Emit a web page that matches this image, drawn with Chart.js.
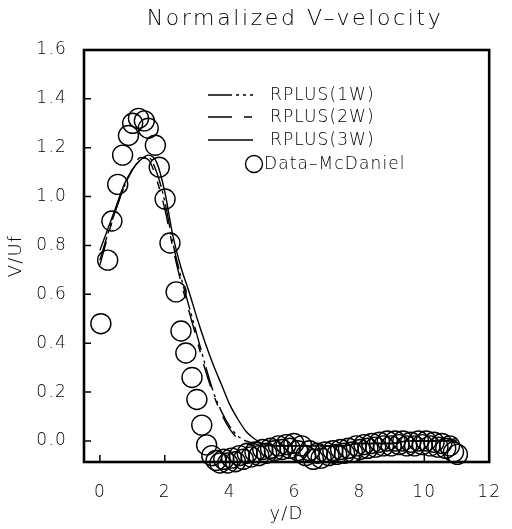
<!DOCTYPE html>
<html>
<head>
<meta charset="utf-8">
<script src="https://cdn.jsdelivr.net/npm/chart.js@4"></script>
<style>
  html, body { margin: 0; padding: 0; background: #fff; }
  #wrap { width: 512px; height: 529px; }
</style>
</head>
<body>
<div id="wrap"><canvas id="c" width="512" height="529"></canvas></div>
<script>
// RPLUS computed profiles, sampled along y/D
const curveX = [0, 0.25, 0.5, 0.75, 1.0, 1.25, 1.5, 1.75, 2.0, 2.25, 2.5, 2.75, 3.0, 3.25, 3.5, 3.75, 4.0, 4.25, 4.5, 4.75, 5.0, 5.5, 6.0, 6.5, 7.0, 7.5, 8.0, 8.5, 9.0, 9.5, 10.0, 10.5, 11.0];
const rplus1W = [0.74, 0.85, 0.95, 1.04, 1.11, 1.15, 1.16, 1.10, 0.98, 0.81, 0.67, 0.55, 0.43, 0.31, 0.20, 0.12, 0.06, 0.02, 0.00, -0.01, -0.02, -0.02, -0.02, -0.02, -0.02, -0.02, -0.01, -0.01, -0.01, 0.00, 0.00, 0.00, 0.00];
const rplus2W = [0.72, 0.84, 0.95, 1.04, 1.11, 1.16, 1.15, 1.07, 0.95, 0.79, 0.65, 0.53, 0.41, 0.29, 0.19, 0.11, 0.05, 0.01, -0.01, -0.02, -0.02, -0.02, -0.02, -0.02, -0.02, -0.02, -0.01, -0.01, -0.01, 0.00, 0.00, 0.00, 0.00];
const rplus3W = [0.78, 0.87, 0.96, 1.05, 1.11, 1.15, 1.17, 1.14, 1.02, 0.84, 0.71, 0.61, 0.50, 0.40, 0.31, 0.23, 0.15, 0.09, 0.04, 0.01, -0.01, -0.02, -0.02, -0.02, -0.02, -0.02, -0.01, -0.01, -0.01, 0.00, 0.00, 0.00, 0.01];

// McDaniel measurements
const dataX = [0.03, 0.24, 0.37, 0.55, 0.70, 0.88, 1.01, 1.19, 1.37, 1.49, 1.71, 1.83, 2.01, 2.16, 2.35, 2.50, 2.65, 2.84, 2.99, 3.14, 3.29, 3.45,
  3.58, 3.70, 3.82, 3.94, 4.06, 4.18, 4.30, 4.42, 4.54, 4.66, 4.78, 4.90, 5.02, 5.14, 5.26, 5.38, 5.50, 5.62, 5.74, 5.86, 5.98,
  6.10, 6.22, 6.34, 6.46, 6.58, 6.70, 6.82, 6.94, 7.06, 7.18, 7.30, 7.42, 7.54, 7.66, 7.78, 7.90, 8.02, 8.14, 8.26, 8.38, 8.50,
  8.62, 8.74, 8.86, 8.98, 9.10, 9.22, 9.34, 9.46, 9.58, 9.70, 9.82, 9.94, 10.06, 10.18, 10.30, 10.42, 10.54, 10.66, 10.78, 10.90, 11.02];
const dataY = [0.48, 0.74, 0.90, 1.05, 1.17, 1.25, 1.30, 1.32, 1.31, 1.28, 1.21, 1.12, 0.99, 0.81, 0.61, 0.45, 0.36, 0.26, 0.17, 0.065, -0.016, -0.06,
  -0.08, -0.09, -0.075, -0.09, -0.07, -0.085, -0.06, -0.075, -0.05, -0.065, -0.045, -0.06, -0.035, -0.05, -0.03, -0.04, -0.02, -0.035, -0.015, -0.03, -0.01,
  -0.04, -0.02, -0.06, -0.04, -0.075, -0.05, -0.07, -0.045, -0.06, -0.04, -0.055, -0.035, -0.05, -0.03, -0.045, -0.02, -0.035, -0.015, -0.03, -0.01, -0.025,
  -0.005, -0.02, 0.0, -0.02, 0.0, -0.015, 0.0, -0.02, -0.005, -0.02, 0.0, -0.015, 0.0, -0.02, -0.005, -0.025, -0.01, -0.03, -0.02, -0.045, -0.055];

const xTickValues = [0, 2, 4, 6, 8, 10, 12];
const yTickValues = [0.0, 0.2, 0.4, 0.6, 0.8, 1.0, 1.2, 1.4, 1.6];

const seriesNames = ['RPLUS(1W)', 'RPLUS(2W)', 'RPLUS(3W)', 'Data\u2013McDaniel'];
const chartTitle = 'Normalized V\u2013velocity';

const FONT = "'DejaVu Sans', sans-serif";
const WEIGHT = '200';
const toPoints = (xs, ys) => xs.map((x, i) => ({ x, y: ys[i] }));

function lineSet(label, values, dash) {
  return {
    label,
    data: toPoints(curveX, values),
    showLine: true,
    borderColor: '#000',
    borderWidth: 1.4,
    borderDash: dash,
    pointRadius: 0,
    pointHoverRadius: 0,
    tension: 0.35,
    cubicInterpolationMode: 'monotone',
    fill: false
  };
}

// Inward tick marks and heavy box round the plot area
const frameAndTicks = {
  id: 'frameAndTicks',
  afterDatasetsDraw(chart) {
    const { ctx, chartArea: a, scales: { x, y } } = chart;
    ctx.save();
    ctx.strokeStyle = '#000';
    ctx.lineWidth = 1.5;
    ctx.beginPath();
    y.ticks.forEach(t => {
      const py = y.getPixelForValue(t.value);
      ctx.moveTo(a.left, py); ctx.lineTo(a.left + 7, py);
    });
    x.ticks.forEach(t => {
      const px = x.getPixelForValue(t.value);
      ctx.moveTo(px, a.bottom); ctx.lineTo(px, a.bottom - 7);
    });
    ctx.stroke();
    ctx.lineWidth = 2.6;
    ctx.strokeRect(a.left, a.top, a.right - a.left, a.bottom - a.top);
    ctx.restore();
  }
};

// Wide-spaced tick labels like the plotter lettering
const spacedText = {
  id: 'spacedText',
  beforeDraw(chart) { chart.ctx.letterSpacing = '1.2px'; },
  afterDraw(chart) { chart.ctx.letterSpacing = '0px'; }
};

// Title and key drawn inside the plot box
const titleAndKey = {
  id: 'titleAndKey',
  afterDraw(chart) {
    const ctx = chart.ctx;
    ctx.save();
    ctx.fillStyle = '#000';
    ctx.strokeStyle = '#000';
    ctx.letterSpacing = '2.6px';
    ctx.font = `${WEIGHT} 22px ${FONT}`;
    ctx.textAlign = 'center';
    ctx.textBaseline = 'middle';
    ctx.fillText(chartTitle, 295, 19);

    ctx.letterSpacing = '1.1px';
    ctx.font = `${WEIGHT} 17px ${FONT}`;
    ctx.textAlign = 'left';
    const rows = [95, 117, 140];
    chart.data.datasets.slice(0, 3).forEach((ds, i) => {
      ctx.lineWidth = 1.4;
      ctx.setLineDash(ds.borderDash || []);
      ctx.beginPath();
      ctx.moveTo(208, rows[i]);
      ctx.lineTo(253, rows[i]);
      ctx.stroke();
      ctx.setLineDash([]);
      ctx.fillText(ds.label, 270, rows[i] + 1);
    });
    const pts = chart.data.datasets[3];
    ctx.lineWidth = 1.4;
    ctx.beginPath();
    ctx.arc(254, 164, 8.5, 0, Math.PI * 2);
    ctx.stroke();
    ctx.fillText(pts.label, 264, 165);
    ctx.restore();
  }
};

new Chart(document.getElementById('c'), {
  type: 'scatter',
  data: {
    datasets: [
      lineSet(seriesNames[0], rplus1W, [24, 4, 3, 4, 3, 4]),
      lineSet(seriesNames[1], rplus2W, [24, 12, 8, 12]),
      lineSet(seriesNames[2], rplus3W, []),
      {
        label: seriesNames[3],
        data: toPoints(dataX, dataY),
        showLine: false,
        pointStyle: 'circle',
        pointRadius: 10,
        pointHoverRadius: 10,
        pointBorderWidth: 1.4,
        pointBorderColor: '#000',
        pointBackgroundColor: 'rgba(0,0,0,0)',
        clip: false
      }
    ]
  },
  options: {
    responsive: false,
    animation: false,
    events: [],
    layout: { padding: { top: 50, right: 18, left: 0, bottom: 0 } },
    plugins: {
      legend: { display: false },
      title: { display: false },
      tooltip: { enabled: false }
    },
    scales: {
      x: {
        type: 'linear',
        min: -0.49,
        max: 12,
        grid: { display: false },
        border: { display: false },
        afterBuildTicks: s => { s.ticks = xTickValues.map(v => ({ value: v })); },
        afterFit: s => { s.height = 67; },
        ticks: {
          color: '#000',
          font: { family: FONT, size: 17, weight: WEIGHT },
          padding: 12,
          maxRotation: 0,
          autoSkip: false,
          callback: v => String(v)
        },
        title: {
          display: true,
          text: 'y/D',
          color: '#000',
          font: { family: FONT, size: 18, weight: WEIGHT },
          padding: { top: 0, bottom: 4 }
        }
      },
      y: {
        type: 'linear',
        min: -0.086,
        max: 1.6,
        grid: { display: false },
        border: { display: false },
        afterBuildTicks: s => { s.ticks = yTickValues.map(v => ({ value: v })); },
        afterFit: s => { s.width = 84; },
        ticks: {
          color: '#000',
          font: { family: FONT, size: 17, weight: WEIGHT },
          padding: 9,
          autoSkip: false,
          callback: v => Number(v).toFixed(1)
        },
        title: {
          display: true,
          text: 'V/Uf',
          color: '#000',
          font: { family: FONT, size: 18, weight: WEIGHT },
          padding: { top: 6, bottom: 0 }
        }
      }
    }
  },
  plugins: [spacedText, frameAndTicks, titleAndKey]
});
</script>
</body>
</html>
